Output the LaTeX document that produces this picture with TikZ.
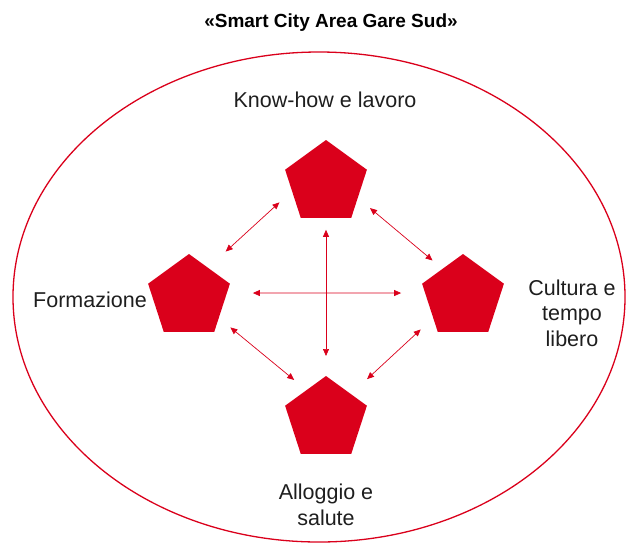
\documentclass[tikz,border=0pt]{standalone}
\usepackage{fontspec}
\setmainfont{Liberation Sans}
\usetikzlibrary{shapes.geometric,arrows.meta}
\definecolor{gsRed}{RGB}{218,0,27}
\definecolor{gsText}{RGB}{30,30,30}
\tikzset{
  pent/.style={regular polygon, regular polygon sides=5, minimum size=86pt,
    inner sep=0pt, outer sep=0pt, fill=gsRed},
  link/.style={gsRed, line width=0.7pt,
    {Triangle[length=7pt,width=6pt]}-{Triangle[length=7pt,width=6pt]}},
  lbl/.style={text=gsText, font=\fontsize{21.5}{25.5}\selectfont, align=center}
}
\begin{document}
\begin{tikzpicture}[x=1pt, y=-1pt]
      \useasboundingbox (0,0) rectangle (629,542);
      % TITLE
      \node[text=black, font=\bfseries\fontsize{19}{22}\selectfont] (title) at (331,23) {«Smart City Area Gare Sud»};
      % OUTER ELLIPSE
      \draw[gsRed, line width=1.3pt] (319,297) ellipse [x radius=306, y radius=245];
      % PENTAGONS
      \node[pent] (pentTop) at (326,183) {};
      \node[pent] (pentLeft) at (189,297) {};
      \node[pent] (pentRight) at (463,297) {};
      \node[pent] (pentBottom) at (326,419) {};
      % ARROWS
      \draw[link, shorten <=24pt, shorten >=17pt] (pentLeft.57) -- (pentTop.193);
      \draw[link, shorten <=16pt, shorten >=13pt] (pentTop.-25) -- (pentRight.126);
      \draw[link, shorten <=12pt, shorten >=20pt] (pentTop) -- (pentBottom);
      \draw[link, shorten <=26pt, shorten >=24pt] (pentLeft.6) -- (pentRight.174);
      \draw[link, shorten <=15pt, shorten >=16pt] (pentLeft.-35) -- (pentBottom.124);
      \draw[link, shorten <=17pt, shorten >=22pt] (pentRight.215) -- (pentBottom.45);
      % LABELS
      \node[lbl] (lblTop) at (325,100) {Know-how e lavoro};
      \node[lbl] (lblLeft) at (90,300) {Formazione};
      \node[lbl] (lblRight) at (572,313) {Cultura e\\tempo\\libero};
      \node[lbl] (lblBottom) at (326,505) {Alloggio e\\salute};
\end{tikzpicture}
\end{document}
